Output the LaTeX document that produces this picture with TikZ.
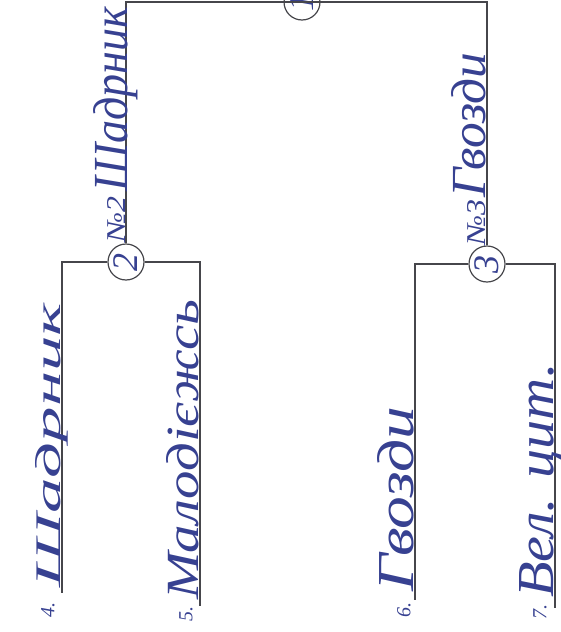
\documentclass[tikz,border=0pt]{standalone}
\usepackage{fontspec}
\setmainfont{Liberation Serif}
\usepackage{graphicx}
\definecolor{ink}{RGB}{55,65,145}
\definecolor{pen}{RGB}{70,70,75}
\begin{document}
\begin{tikzpicture}[x=1pt,y=-1pt,
  wire/.style={draw=pen,line width=1.1pt},
  knot/.style={circle,draw=pen,line width=1.2pt,minimum size=36pt,inner sep=0pt,fill=white,text=ink,font=\itshape\fontsize{36}{36}\selectfont,rotate=90},
  hand/.style={text=ink,font=\itshape,rotate=90,anchor=base west,inner sep=0pt},
  num/.style={text=ink,font=\itshape\fontsize{20}{20}\selectfont,rotate=90,inner sep=0pt}]
\useasboundingbox (0,0) rectangle (561,632);
\clip (0,0) rectangle (561,632);
% nodes
\node[knot] (n1) at (302,2) {1};
\node[knot] (n2) at (126,262) {2};
\node[knot] (n3) at (487,264) {3};
% leaf ends
\coordinate (l4) at (62,593);
\coordinate (l5) at (200,606);
\coordinate (l6) at (415,600);
\coordinate (l7) at (555,608);
% connectors
\draw[wire] (n1.south) -| (n2.east);
\draw[wire] (n1.north) -| (n3.east);
\draw[wire] (n2.north) -| (l4);
\draw[wire] (n2.south) -| (l5);
\draw[wire] (n3.north) -| (l6);
\draw[wire] (n3.south) -| (l7);
% leaf labels
\node[hand] (t4) at (60,588) {\resizebox{285pt}{25pt}{Шадрник}};
\node[hand] (t5) at (198,600) {\resizebox{300pt}{32pt}{Малодієжсь}};
\node[hand] (t6) at (413,592) {\resizebox{185pt}{36pt}{Гвозди}};
\node[hand] (t7) at (553,598) {\resizebox{235pt}{34pt}{Вел. цит.}};
% winner labels
\node[hand] (w2n) at (125,243) {\resizebox{46pt}{18pt}{№2}};
\node[hand] (w2) at (127,192) {\resizebox{185pt}{34pt}{Шадрник}};
\node[hand] (w3n) at (485,246) {\resizebox{46pt}{18pt}{№3}};
\node[hand] (w3) at (485,198) {\resizebox{145pt}{34pt}{Гвозди}};
% numbers
\node[num] (k4) at (48,610) {4.};
\node[num] (k5) at (186,614) {5.};
\node[num] (k6) at (404,610) {6.};
\node[num] (k7) at (540,612) {7.};
\end{tikzpicture}
\end{document}
